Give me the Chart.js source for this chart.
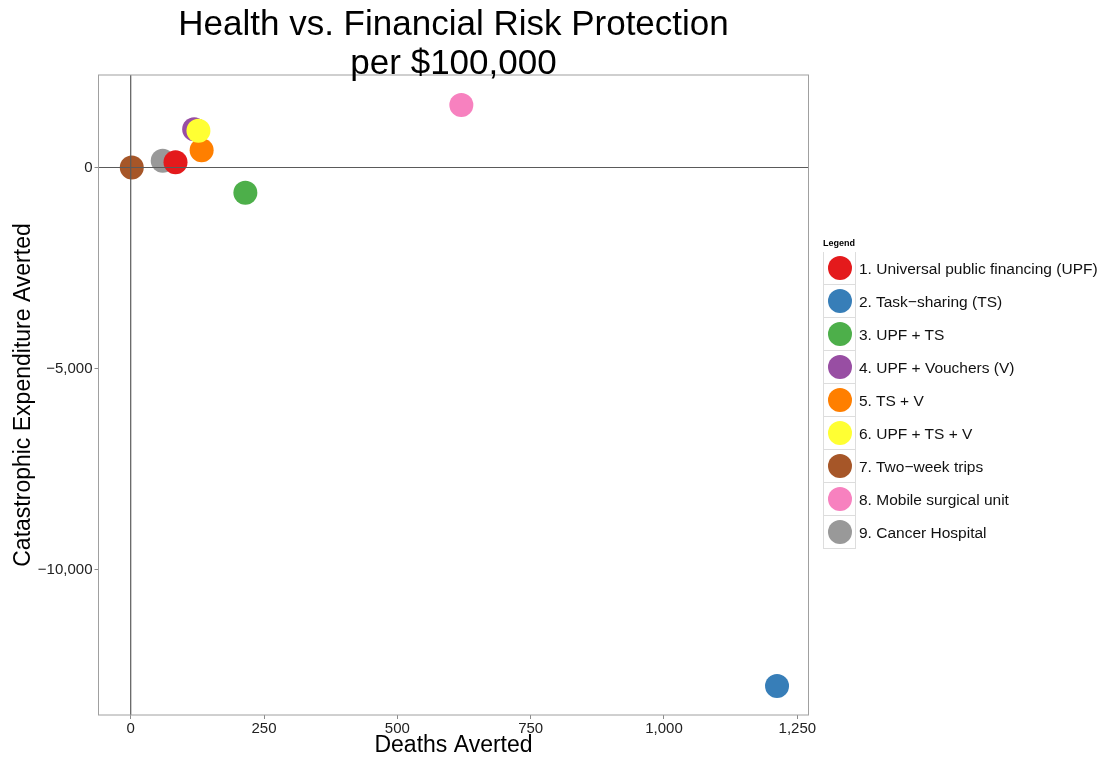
<!DOCTYPE html>
<html>
<head>
<meta charset="utf-8">
<script src="https://cdn.jsdelivr.net/npm/chart.js@4"></script>
<style>
  body { margin: 0; background: #fff; font-family: "Liberation Sans", Arial, sans-serif; }
  #wrap { position: relative; width: 1101px; height: 761px; }
  #legend { position: absolute; left: 823px; top: 237px; color: #000; }
  #legend .title { font-size: 9px; font-weight: bold; height: 15px; line-height: 12px; }
  #legend .row { display: flex; align-items: center; height: 33px; }
  #legend .key { width: 31px; height: 32px; border: 1px solid #ddd; border-top: none; display: flex; align-items: center; justify-content: center; }
  #legend .row:first-of-type .key { border-top: 1px solid #ddd; }
  #legend .dot { width: 24px; height: 24px; border-radius: 50%; }
  #legend .lab { font-size: 15.5px; margin-left: 3px; white-space: nowrap; color: #111; }
</style>
</head>
<body>
<div id="wrap">
  <canvas id="chart" width="1101" height="761"></canvas>
  <div id="legend"></div>
</div>
<script>
// Data
const labels = [
    '1. Universal public financing (UPF)',
    '2. Task\u2212sharing (TS)',
    '3. UPF + TS',
    '4. UPF + Vouchers (V)',
    '5. TS + V',
    '6. UPF + TS + V',
    '7. Two\u2212week trips',
    '8. Mobile surgical unit',
    '9. Cancer Hospital'
];
const deathsAverted = [84, 1212, 215, 119, 133, 127, 2, 620, 60];
const catastrophicAverted = [129, -12898, -627, 950, 428, 915, 0, 1555, 169];
const colors = ['#E41A1C', '#377EB8', '#4DAF4A', '#984EA3', '#FF7F00', '#FFFF33', '#A65628', '#F781BF', '#999999'];
const drawOrder = [1, 3, 4, 9, 5, 2, 6, 7, 8]; // lower = drawn on top

const xTicks = [0, 250, 500, 750, 1000, 1250];
const yTicks = [0, -5000, -10000];

const titleLines = ['Health vs. Financial Risk Protection', 'per $100,000'];
const FONT = '"Liberation Sans", Arial, sans-serif';

function fmt(v) {
    const s = Math.abs(v).toLocaleString('en-US');
    return v < 0 ? '\u2212' + s : s;
}

// box, zero lines and title
const decor = {
    id: 'decor',
    afterDatasetsDraw(chart) {
        const { ctx, chartArea: a, scales: { x, y } } = chart;
        ctx.save();
        ctx.strokeStyle = '#5a5a5a';
        ctx.lineWidth = 1.2;
        const x0 = x.getPixelForValue(0), y0 = y.getPixelForValue(0);
        ctx.beginPath();
        ctx.moveTo(x0, a.top); ctx.lineTo(x0, a.bottom);
        ctx.moveTo(a.left, y0); ctx.lineTo(a.right, y0);
        ctx.stroke();
        ctx.strokeStyle = '#a0a0a0';
        ctx.lineWidth = 1;
        ctx.strokeRect(a.left, a.top, a.right - a.left, a.bottom - a.top);
        ctx.restore();
    },
    afterDraw(chart) {
        const { ctx, chartArea: a } = chart;
        ctx.save();
        ctx.fillStyle = '#000';
        ctx.font = '35px ' + FONT;
        ctx.textAlign = 'center';
        ctx.textBaseline = 'alphabetic';
        const cx = (a.left + a.right) / 2;
        ctx.fillText(titleLines[0], cx, 35);
        ctx.fillText(titleLines[1], cx, 74);
        ctx.restore();
    }
};

const datasets = labels.map((lab, i) => ({
    label: lab,
    data: [{ x: deathsAverted[i], y: catastrophicAverted[i] }],
    backgroundColor: colors[i],
    borderWidth: 0,
    pointRadius: 12,
    pointHoverRadius: 12,
    order: drawOrder[i]
}));

const chart = new Chart(document.getElementById('chart'), {
    type: 'scatter',
    data: { datasets },
    options: {
        responsive: false,
        animation: false,
        events: [],
        layout: { padding: { left: 0, top: 75, right: 292.5, bottom: 0 } },
        plugins: { legend: { display: false }, tooltip: { enabled: false } },
        scales: {
            x: {
                min: -60.4, max: 1271,
                afterBuildTicks: s => { s.ticks = xTicks.map(v => ({ value: v })); },
                afterFit: s => { s.height = 46; },
                grid: { drawOnChartArea: false, tickLength: 4, tickColor: '#8a8a8a' },
                border: { display: false },
                ticks: { color: '#222', font: { family: FONT, size: 15 }, padding: 1, maxRotation: 0, callback: v => fmt(v) },
                title: { display: true, text: 'Deaths Averted', color: '#000', font: { family: FONT, size: 23 }, padding: { top: 0, bottom: 2 } }
            },
            y: {
                min: -13619, max: 2301,
                afterBuildTicks: s => { s.ticks = yTicks.map(v => ({ value: v })); },
                afterFit: s => { s.width = 98.5; },
                grid: { drawOnChartArea: false, tickLength: 4, tickColor: '#8a8a8a' },
                border: { display: false },
                ticks: { color: '#222', font: { family: FONT, size: 15 }, padding: 2, callback: v => fmt(v) },
                title: { display: true, text: 'Catastrophic Expenditure Averted', color: '#000', font: { family: FONT, size: 23 }, padding: { top: 10, bottom: 0 } }
            }
        }
    },
    plugins: [decor]
});

// legend in ggplot style
const legend = document.getElementById('legend');
legend.innerHTML = '<div class="title">Legend</div>';
labels.forEach((lab, i) => {
    const row = document.createElement('div');
    row.className = 'row';
    row.innerHTML = `<div class="key"><div class="dot" style="background:${colors[i]}"></div></div><div class="lab">${lab}</div>`;
    legend.appendChild(row);
});
</script>
</body>
</html>
